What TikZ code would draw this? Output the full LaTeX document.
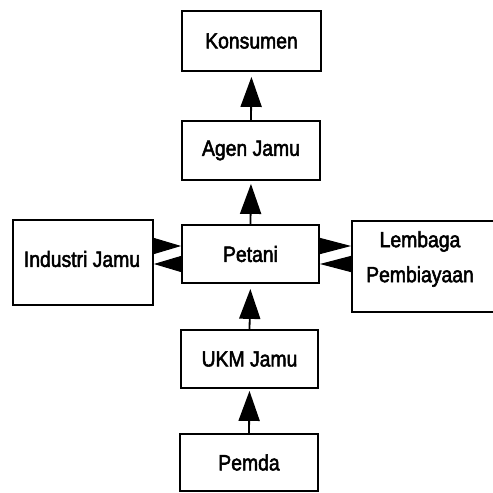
\documentclass[tikz,border=0pt]{standalone}
\usepackage{fontspec}
\setmainfont{Liberation Sans}
\newfontfamily\diagfont{Liberation Sans}[FakeBold=2.5]
\newcommand{\sq}[1]{\scalebox{0.88}[1]{#1}}
\usetikzlibrary{arrows.meta,calc}
\begin{document}
\begin{tikzpicture}[x=1pt,y=-1pt,
  box/.style={draw,line width=1.8pt,inner sep=0pt,font=\diagfont\fontsize{22}{24}\selectfont,align=center},
  txt/.style={inner sep=0pt,align=center,font=\diagfont\fontsize{22}{35}\selectfont},
  arr/.style={line width=1.8pt,-{Triangle[length=30pt,width=21pt]}},
  sarr/.style={line width=1pt,-{Triangle[length=#1,width=17pt]}}]
\useasboundingbox (0,0) rectangle (493,493);
\clip (0,0) rectangle (493,493);
\node[box,minimum width=139pt,minimum height=60pt] (kons) at (251.5,41) {\sq{Konsumen}};
\node[box,minimum width=138pt,minimum height=59pt] (agen) at (251,150.5) {\sq{Agen Jamu}};
\node[box,minimum width=137pt,minimum height=58pt] (pet) at (250.5,254) {\sq{Petani}};
\node[box,minimum width=140pt,minimum height=85pt] (ind) at (83,262.5) {};
\node[txt] (indt) at (82,259) {\sq{Industri Jamu}};
\node[box,minimum width=144pt,minimum height=91pt] (lem) at (424,266.5) {};
\node[txt] (lemt) at (420,259) {\sq{Lembaga}\\\sq{Pembiayaan}};
\node[box,minimum width=137pt,minimum height=58pt] (ukm) at (249.5,359) {\sq{UKM Jamu}};
\node[box,minimum width=138pt,minimum height=57pt] (pem) at (249,462.5) {\sq{Pemda}};
% vertical arrows
\draw[arr,shorten >=5pt] (agen.north) -- (kons.south);
\draw[arr,shorten >=3pt] (pet.north) -- (agen.south);
\draw[arr,shorten >=5pt] (ukm.north) -- (pet.south);
\draw[arr,shorten >=2pt] (pem.north) -- (ukm.south);
% side arrows
\coordinate (pwu) at ([yshift=8pt]pet.west);
\coordinate (pwd) at ([yshift=-10pt]pet.west);
\coordinate (peu) at ([yshift=8pt]pet.east);
\coordinate (ped) at ([yshift=-10pt]pet.east);
\draw[sarr=29pt] (ind.east |- pwu) -- (pwu);
\draw[sarr=29pt] (pwd) -- (ind.east |- pwd);
\draw[sarr=33pt] (peu) -- (lem.west |- peu);
\draw[sarr=33pt] (lem.west |- ped) -- (ped);
\end{tikzpicture}
\end{document}
